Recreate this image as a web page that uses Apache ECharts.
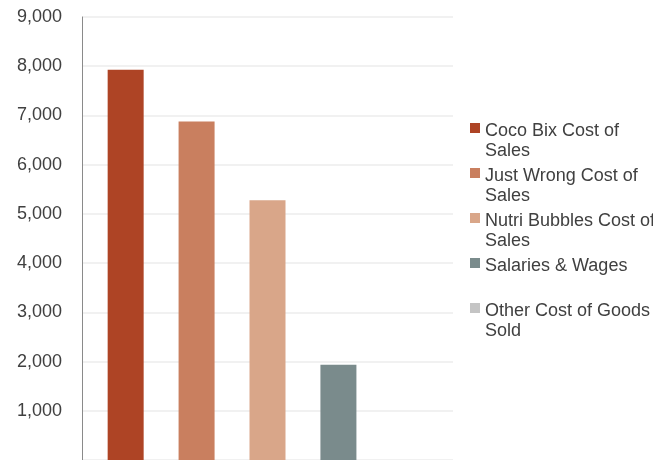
<!DOCTYPE html>
<html>
<head>
<meta charset="utf-8">
<script src="https://cdn.jsdelivr.net/npm/echarts@6/dist/echarts.min.js"></script>
<style>html,body{margin:0;padding:0;background:#fff}#c{width:653px;height:460px}</style>
</head>
<body>
<div id="c"></div>
<script>
const categories = [''];
const seriesNames = ['Coco Bix Cost of Sales', 'Just Wrong Cost of Sales', 'Nutri Bubbles Cost of Sales', 'Salaries & Wages', 'Other Cost of Goods Sold'];
const legendLines = [['Coco Bix Cost of', 'Sales'], ['Just Wrong Cost of', 'Sales'], ['Nutri Bubbles Cost of', 'Sales'], ['Salaries & Wages', ' '], ['Other Cost of Goods', 'Sold']];
const seriesValues = [7930, 6875, 5276, 1937, 0];
const seriesColors = ['#AE4425', '#C97F5F', '#D9A689', '#7A8B8C', '#C4C4C4'];
const yTicks = { min: 0, max: 9000, interval: 1000 };

const font = '"Liberation Sans", Arial, sans-serif';
const chart = echarts.init(document.getElementById('c'), null, { renderer: 'canvas' });
const labelMap = {};
seriesNames.forEach((n, i) => {
  labelMap[n] = '{sp| }\n' + legendLines[i].map(l => '{t|' + l + '}').join('\n');
});

chart.setOption({
  animation: false,
  grid: { left: 82, top: 17, right: 200, height: 444.7 },
  legend: {
    orient: 'vertical',
    left: 470,
    top: 95,
    padding: 0,
    itemWidth: 10,
    itemHeight: 10,
    itemGap: -21,
    icon: 'rect',
    data: seriesNames,
    formatter: name => labelMap[name],
    textStyle: {
      fontFamily: font, fontSize: 18, color: '#404040', lineHeight: 20,
      rich: {
        sp: { fontFamily: font, fontSize: 18, lineHeight: 26 },
        t: { fontFamily: font, fontSize: 18, lineHeight: 20, color: '#404040' }
      }
    }
  },
  xAxis: {
    type: 'category',
    data: categories,
    axisLine: { show: false },
    axisTick: { show: false },
    axisLabel: { show: false },
    splitLine: { show: false }
  },
  yAxis: {
    type: 'value',
    min: yTicks.min,
    max: yTicks.max,
    interval: yTicks.interval,
    axisLine: { show: true, lineStyle: { color: '#8A8A8A', width: 1 } },
    axisTick: { show: false },
    axisLabel: {
      fontFamily: font, fontSize: 18, color: '#404040', margin: 20,
      showMinLabel: false,
      formatter: v => v === 0 ? '' : v.toLocaleString('en-US')
    },
    splitLine: { show: true, lineStyle: { color: '#EDEDED', width: 1.5 } }
  },
  series: seriesNames.map((name, i) => ({
    name: name,
    type: 'bar',
    data: [seriesValues[i]],
    barWidth: 36,
    barGap: '97%',
    itemStyle: { color: seriesColors[i] }
  }))
});
</script>
</body>
</html>
